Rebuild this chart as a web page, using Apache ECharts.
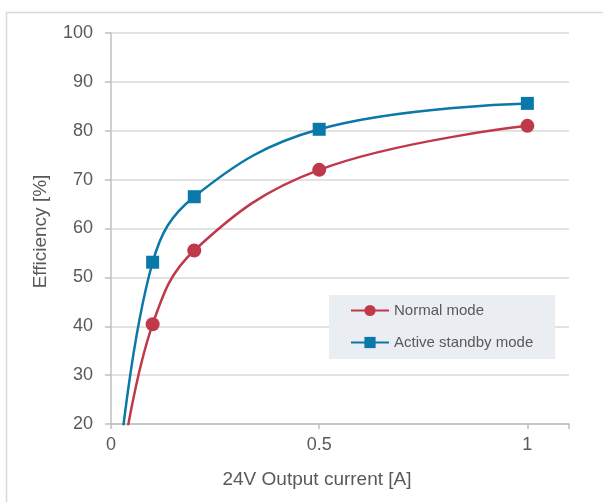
<!DOCTYPE html>
<html>
<head>
<meta charset="utf-8">
<script src="https://cdn.jsdelivr.net/npm/echarts@6/dist/echarts.min.js"></script>
<style>
  html, body { margin: 0; padding: 0; background: #fff; }
  #chart { width: 603px; height: 502px; }
</style>
</head>
<body>
<div id="chart"></div>
<script>
// x: output current [A], y: efficiency [%]
// first point of each series has no marker (curve runs below the axis)
const normalX = [0.03, 0.1, 0.2, 0.5, 1.0]
const normalY = [14, 40.4, 55.5, 72.0, 81.0]
const standbyX = [0.02, 0.1, 0.2, 0.5, 1.0]
const standbyY = [12, 53.1, 66.5, 80.3, 85.6]
const xTicks = [0, 0.5, 1]
const seriesNames = ['Normal mode', 'Active standby mode']

const textColor = '#595959'
const fontFamily = '"Liberation Sans", Arial, sans-serif'

const toData = (xs, ys) => xs.map((x, i) => {
  if (i === 0) return { value: [x, ys[i]], symbol: 'none' }
  return [x, ys[i]]
})

const chart = echarts.init(document.getElementById('chart'))

chart.setOption({
  animation: false,
  textStyle: { fontFamily },
  graphic: [
    {
      type: 'rect',
      shape: { x: 6.5, y: 12.5, width: 800, height: 700 },
      style: { fill: 'none', stroke: '#d9d9d9', lineWidth: 1.5 },
      z: -1
    }
  ],
  grid: {
    left: 111,
    right: 34,
    top: 33,
    bottom: 78
  },
  legend: {
    left: 329,
    top: 295,
    orient: 'vertical',
    backgroundColor: '#eaedf1',
    padding: [8, 22, 9, 21],
    itemGap: 17,
    itemWidth: 38,
    itemHeight: 14,
    textStyle: { color: textColor, fontSize: 15 },
    data: seriesNames
  },
  xAxis: {
    type: 'value',
    min: 0,
    max: 1.1,
    name: '24V Output current [A]',
    nameLocation: 'middle',
    nameGap: 46,
    nameTextStyle: { color: textColor, fontSize: 19, padding: [0, 46, 0, 0] },
    axisLine: { show: true, lineStyle: { color: '#bfbfbf', width: 1.5 } },
    axisTick: { show: true, length: 5, customValues: [0, 0.5, 1, 1.1], lineStyle: { color: '#bfbfbf', width: 1.5 } },
    axisLabel: { color: textColor, fontSize: 18, margin: 12, customValues: xTicks },
    splitLine: { show: false }
  },
  yAxis: {
    type: 'value',
    min: 20,
    max: 100,
    interval: 10,
    name: 'Efficiency [%]',
    nameLocation: 'middle',
    nameGap: 61,
    nameTextStyle: { color: textColor, fontSize: 19, padding: [0, 6, 0, 0] },
    axisLine: { show: true, lineStyle: { color: '#bfbfbf', width: 1.5 } },
    axisTick: { show: true, length: 6, lineStyle: { color: '#bfbfbf', width: 1.5 } },
    axisLabel: { color: textColor, fontSize: 18, margin: 18 },
    splitLine: { show: true, lineStyle: { color: '#d9d9d9', width: 1.5 } }
  },
  series: [
    {
      name: seriesNames[0],
      type: 'line',
      data: toData(normalX, normalY),
      smooth: 0.4,
      symbol: 'circle',
      symbolSize: 14,
      lineStyle: { color: '#c0394b', width: 2.5 },
      itemStyle: { color: '#c0394b' }
    },
    {
      name: seriesNames[1],
      type: 'line',
      data: toData(standbyX, standbyY),
      smooth: 0.4,
      symbol: 'rect',
      symbolSize: 13,
      lineStyle: { color: '#0a78a8', width: 2.5 },
      itemStyle: { color: '#0a78a8' }
    }
  ]
})
</script>
</body>
</html>
